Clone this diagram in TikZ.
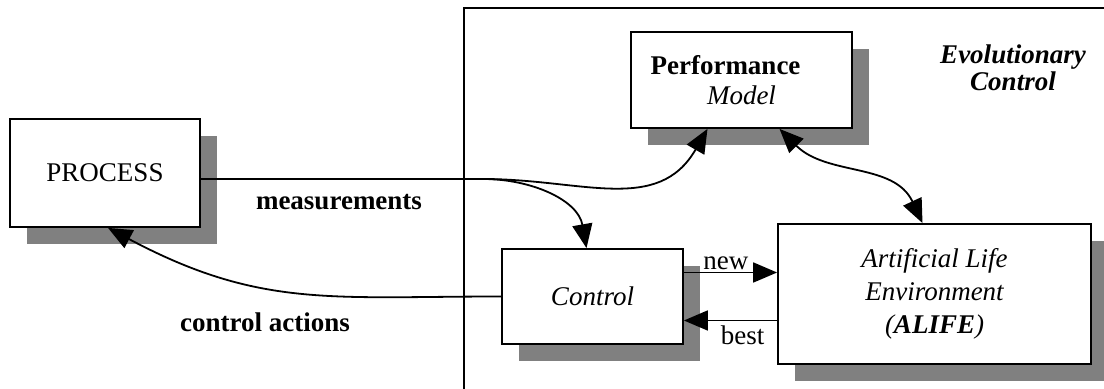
\documentclass[tikz,border=0pt]{standalone}
\usepackage{fontspec}
\setmainfont{Liberation Serif}
\usetikzlibrary{arrows.meta,shadows}

\tikzset{
  >={Triangle[length=12pt,width=10pt]},
  block/.style={draw, fill=white, line width=0.9pt, inner sep=0pt, align=center,
    drop shadow={shadow xshift=8.5pt, shadow yshift=-8.5pt, fill=black!50, opacity=1}},
  link/.style={line width=0.9pt},
  boldlbl/.style={font=\fontsize{13.5}{16.5}\selectfont\bfseries},
}

\begin{document}
\begin{tikzpicture}[x=0.5pt, y=-0.5pt, every node/.style={font=\fontsize{13.5}{16.5}\selectfont}]
  \useasboundingbox (0,0) rectangle (1104,389);
  % frame of the evolutionary controller
  \draw[link] (1104,8) -| (464,389);
  \node[font=\fontsize{13.5}{11.5}\selectfont\bfseries\itshape, align=center] (evo) at (1013,68) {Evolutionary\\Control};
  % blocks
  \node[block, minimum width=95pt, minimum height=54pt] (process) at (105,173) {PROCESS};
  \node[block, minimum width=110.5pt, minimum height=48pt, font=\fontsize{13.5}{15}\selectfont] (perf) at (741.5,80)
    {\textbf{Performance}\hspace*{16pt}\\\textit{Model}};
  \node[block, minimum width=90.5pt, minimum height=47.5pt] (control) at (592.5,296.5) {\textit{Control}};
  \node[block, minimum width=156.5pt, minimum height=70pt, font=\fontsize{13.5}{16.5}\selectfont\itshape] (alife) at (934.5,294)
    {Artificial Life\\Environment\\(\textbf{ALIFE})};
  % measurements
  \coordinate (split) at (483,179);
  \draw[link] (process.east |- split) -- (split);
  \draw[link,->] (split) to[out=0, in=-120, looseness=1.1] ([xshift=-17pt]perf.south);
  \draw[link,->] (split) to[out=0, in=100] ([xshift=-3pt]control.north);
  \node[boldlbl] (meas) at (339,202) {measurements};
  % control actions
  \draw[link,->] (control.west) to[out=180, in=-28, looseness=1.1] ([xshift=1.5pt]process.south);
  \node[boldlbl] (act) at (265,322) {control actions};
  % model <-> alife
  \draw[link,<->] ([xshift=19pt]perf.south) to[out=-45, in=115] ([xshift=-6pt]alife.north);
  % new / best
  \draw[link,->] ([yshift=12pt]control.east) -- ([yshift=12pt]control.east -| alife.west)
    node[pos=0.45, above, inner sep=1pt] {new};
  \draw[link,->] ([yshift=-12pt]control.east -| alife.west) -- ([yshift=-12pt]control.east)
    node[pos=0.37, below, inner sep=2pt] {best};
\end{tikzpicture}
\end{document}
